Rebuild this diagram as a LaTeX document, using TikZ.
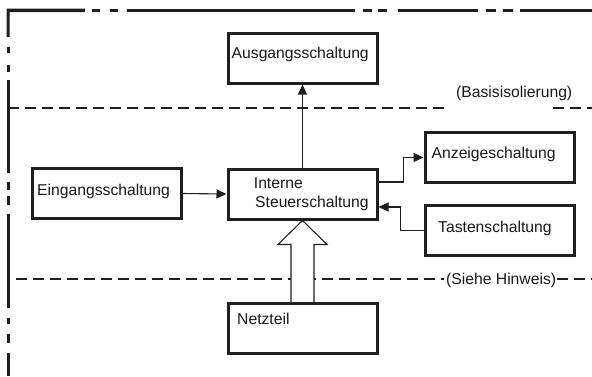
\documentclass[tikz,border=0pt]{standalone}
\usepackage{fontspec}
\setmainfont{Liberation Sans}
\usetikzlibrary{arrows.meta,calc,backgrounds}
\begin{document}
\begin{tikzpicture}[x=1pt,y=-1pt,
 box/.style={draw=black!88, line width=3pt, minimum width=149pt, minimum height=50pt, inner sep=0pt, fill=white},
 lbl/.style={inner sep=0pt, anchor=base west, font=\fontsize{15.7}{19}\selectfont, text=black!90},
 conn/.style={line width=1.1pt, draw=black!88, -{Triangle[length=10pt,width=9pt]}},
 border/.style={line width=3pt, draw=black!88},
 sepline/.style={line width=1.1pt, draw=black!88, dash pattern=on 11pt off 6pt}]
\useasboundingbox (0,0) rectangle (592,376);

% outer dash-dot-dot boundary
\fill[black!88] (6.5,8.5) rectangle (85,12) (6.5,8.5) rectangle (9.5,37);
\foreach \a/\b in {92/100,110/118,127/355,363/372,378/387,398/478,486/496,503/513,520/592}
  \fill[black!88] (\a,8.5) rectangle (\b,12);
\foreach \a/\b in {47/53,65/72,80/173,182/190,196/205,214/308,318/324,334/343,353/376}
  \draw[border] (8,\a) -- (8,\b);

% boxes
\node[box] (aus) at (302.5,58) {};
\node[box] (ein) at (106.5,193.5) {};
\node[box] (ste) at (302.5,194) {};
\node[box] (anz) at (499.5,157.5) {};
\node[box] (tas) at (499.5,230.5) {};
\node[box] (net) at (302.5,328.5) {};

% box texts
\node[lbl] (ausT) at (231.5,58) {Ausgangsschaltung};
\node[lbl] (einT) at (37,195) {Eingangsschaltung};
\node[lbl] (steT1) at (253.7,188) {Interne};
\node[lbl] (steT2) at (255,207) {Steuerschaltung};
\node[lbl] (anzT) at (431.5,158) {Anzeigeschaltung};
\node[lbl] (tasT) at (438,232) {Tastenschaltung};
\node[lbl] (netT) at (237,324) {Netzteil};

% separator labels
\node[lbl] (basis) at (456,97) {(Basisisolierung)};
\node[lbl] (hinweis) at (446,284) {(Siehe Hinweis)};

\begin{scope}[on background layer]
  \draw[sepline] (8,108) -- (448,108);
  \draw[sepline] (553,108) -- (592,108);
  \draw[sepline] (16,279) -- (444,279);
  \draw[sepline] (557,279) -- (592,279);
  % hollow power arrow
  \draw[line width=1.1pt, draw=black!88, fill=white]
    ($(net.north)+(-11.5,0)$) -- ($(ste.south)+(-11.5,24)$) -- ($(ste.south)+(-24.5,24)$)
    -- (ste.south) -- ($(ste.south)+(24.5,24)$) -- ($(ste.south)+(11.5,24)$)
    -- ($(net.north)+(11.5,0)$);
\end{scope}

% connectors
\draw[conn] (ein.east) -- (ste.west);
\draw[conn] (ste.north) -- (aus.south);
\draw[conn] ($(ste.east)+(0,-12)$) -- ++(25,0) |- (anz.west);
\draw[conn] (tas.west) -- ++(-23,0) |- ($(ste.east)+(0,13)$);
\end{tikzpicture}
\end{document}
